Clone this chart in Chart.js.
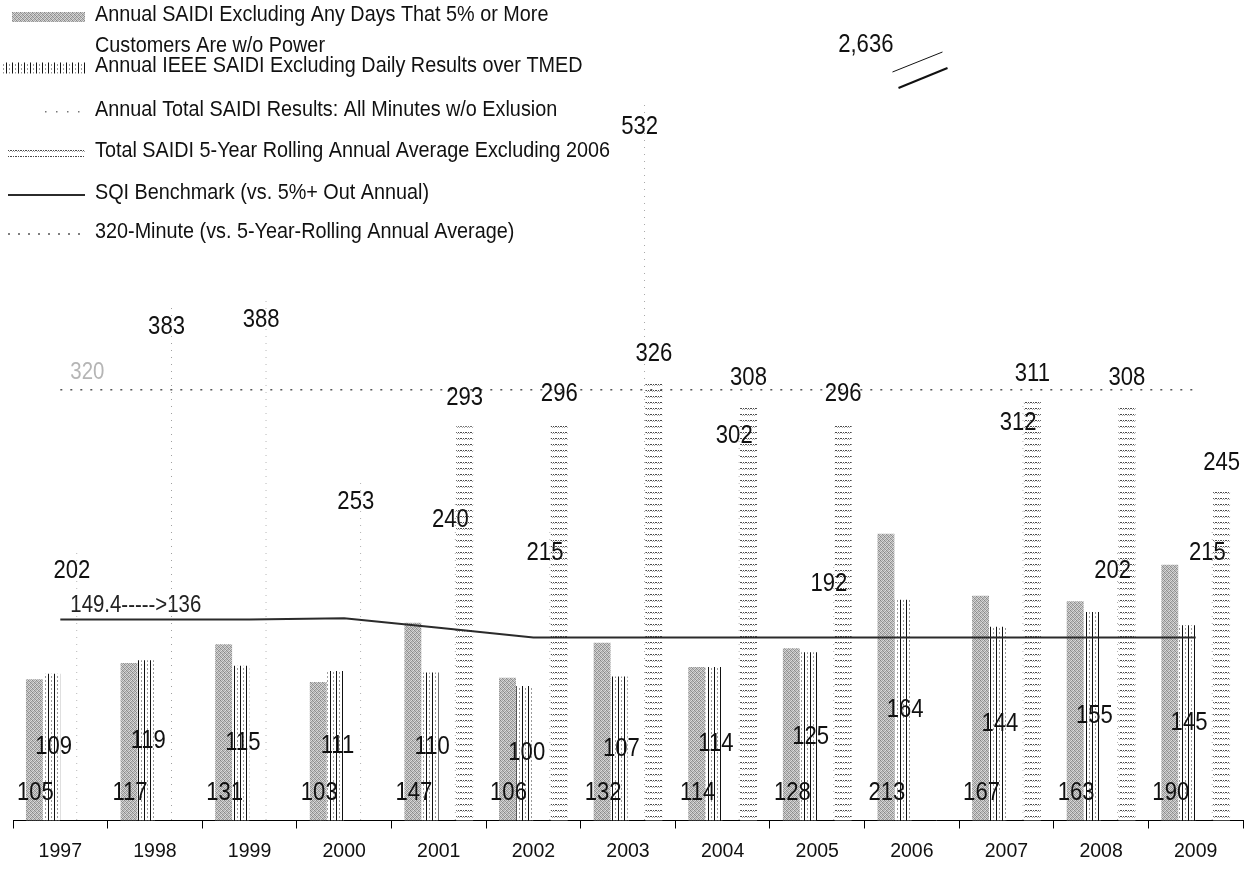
<!DOCTYPE html>
<html>
<head>
<meta charset="utf-8">
<title>SAIDI 1997-2009</title>
<script src="https://cdn.jsdelivr.net/npm/chart.js@4.4.1/dist/chart.umd.min.js"></script>
<style>
  html, body { margin: 0; padding: 0; background: #fff; }
  #wrap { width: 1247px; height: 874px; }
</style>
</head>
<body>
<div id="wrap"><canvas id="saidiChart" width="1247" height="874"></canvas></div>
<script>
const years = ['1997', '1998', '1999', '2000', '2001', '2002', '2003', '2004', '2005', '2006', '2007', '2008', '2009'];
const saidiExcl5pct = [105, 117, 131, 103, 147, 106, 132, 114, 128, 213, 167, 163, 190];
const ieeeSaidi = [109, 119, 115, 111, 110, 100, 107, 114, 125, 164, 144, 155, 145];
const totalSaidi = [202, 383, 388, 253, 240, 215, 532, 302, 192, 2636, 312, 202, 215];
const rollingAvg = [null, null, null, null, 293, 296, 326, 308, 296, null, 311, 308, 245];
const sqiBenchmark = [149.4, 149.4, 149.4, 150.3, 143.2, 136, 136, 136, 136, 136, 136, 136, 136];
const target320 = [320, 320, 320, 320, 320, 320, 320, 320, 320, 320, 320, 320, 320];
const yMax = 600;

const legendText = [
  ['Annual SAIDI Excluding Any Days That 5% or More', 'Customers Are w/o Power'],
  ['Annual IEEE SAIDI Excluding Daily Results over TMED'],
  ['Annual Total SAIDI Results: All Minutes w/o Exlusion'],
  ['Total SAIDI 5-Year Rolling Annual Average Excluding 2006'],
  ['SQI Benchmark (vs. 5%+ Out Annual)'],
  ['320-Minute (vs. 5-Year-Rolling Annual Average)']
];

const FONT = "'Liberation Sans', Arial, sans-serif";
Chart.defaults.font.family = FONT;

// the printed chart uses a narrow face; squeeze our own text horizontally
function squeezedText(ctx, text, x, y, size, align, squeeze) {
  ctx.save();
  ctx.font = `${size}px ${FONT}`;
  ctx.textAlign = align || 'center';
  ctx.textBaseline = 'middle';
  ctx.translate(x, y);
  ctx.scale(squeeze || 0.85, 1);
  ctx.fillText(text, 0, 0);
  ctx.restore();
}

// small canvas tiles used as fills, to imitate the printed hatching
function makePattern(w, h, paint) {
  const c = document.createElement('canvas');
  c.width = w;
  c.height = h;
  const g = c.getContext('2d');
  paint(g);
  return g.createPattern(c, 'repeat');
}

const greyFill = makePattern(4, 4, g => {
  const shades = [
    ['#868686', '#cdcdcd', '#a8a8a8', '#dcdcdc'],
    ['#c2c2c2', '#949494', '#d8d8d8', '#9e9e9e'],
    ['#aeaeae', '#dedede', '#8a8a8a', '#c6c6c6'],
    ['#d6d6d6', '#a2a2a2', '#c4c4c4', '#909090']
  ];
  shades.forEach((row, y) => row.forEach((c, x) => { g.fillStyle = c; g.fillRect(x, y, 1, 1); }));
});

const stripeFill = makePattern(6, 4, g => {
  g.fillStyle = '#fff';
  g.fillRect(0, 0, 6, 4);
  g.fillStyle = '#111';
  g.fillRect(0, 0, 1, 4);
  g.fillStyle = '#999';
  g.fillRect(3, 0, 1, 2);
});

const dashFill = makePattern(5, 6, g => {
  g.fillStyle = '#fff';
  g.fillRect(0, 0, 5, 6);
  g.fillStyle = '#4a4a4a';
  [0, 1, 3].forEach(x => g.fillRect(x, 0, 1, 1));
  g.fillStyle = '#a8a8a8';
  [2, 4].forEach(x => g.fillRect(x, 1, 1, 1));
});

const dotEdge = makePattern(1, 7, g => {
  g.fillStyle = '#a0a0a0';
  g.fillRect(0, 0, 1, 1);
});

// where each legend row sits (text centre) and what its swatch looks like
const legendRows = [15, 66, 110, 151, 193, 232];
const swatches = [
  { kind: 'box', x: 12, w: 73, h: 10 },
  { kind: 'box', x: 3, w: 82, h: 11 },
  { kind: 'dots', x: 45, w: 35 },
  { kind: 'box', x: 8, w: 77, h: 8 },
  { kind: 'line', x: 8, w: 77 },
  { kind: 'line', x: 8, w: 77 }
];

const legendPlugin = {
  id: 'columnLegend',
  afterDraw(chart) {
    const ctx = chart.ctx;
    ctx.save();
    chart.data.datasets.forEach((ds, i) => {
      const y = legendRows[i];
      const sw = swatches[i];
      if (sw.kind === 'box') {
        ctx.fillStyle = ds.backgroundColor;
        ctx.fillRect(sw.x, y + 2 - sw.h / 2, sw.w, sw.h);
      } else if (sw.kind === 'dots') {
        ctx.fillStyle = '#777';
        for (let x = sw.x; x <= sw.x + sw.w; x += 11) ctx.fillRect(x, y + 1, 1.5, 1.5);
      } else {
        ctx.strokeStyle = ds.borderColor;
        ctx.lineWidth = ds.borderWidth;
        ctx.setLineDash(ds.borderDash || []);
        ctx.beginPath();
        ctx.moveTo(sw.x, y + 2);
        ctx.lineTo(sw.x + sw.w, y + 2);
        ctx.stroke();
        ctx.setLineDash([]);
      }
      ctx.fillStyle = '#111';
      legendText[i].forEach((line, k) => squeezedText(ctx, line, 95, y + k * 31, 22, 'left', 0.9));
    });
    ctx.restore();
  }
};

const valueLabelPlugin = {
  id: 'valueLabels',
  afterDatasetsDraw(chart) {
    const ctx = chart.ctx;
    const area = chart.chartArea;
    const fmt = v => v.toLocaleString('en-US');
    const size = 26;
    ctx.save();
    ctx.fillStyle = '#111';

    // excluding 5%+ days: inside base
    chart.getDatasetMeta(0).data.forEach((bar, i) => {
      squeezedText(ctx, fmt(saidiExcl5pct[i]), bar.x + 1, bar.base - 28, size);
    });
    // IEEE: centred on the bar
    chart.getDatasetMeta(1).data.forEach((bar, i) => {
      squeezedText(ctx, fmt(ieeeSaidi[i]), bar.x + 2, (bar.y + bar.base) / 2, size);
    });
    // total: inside end, or a broken-bar marker when off the scale
    chart.getDatasetMeta(2).data.forEach((bar, i) => {
      if (bar.y < area.top) {
        squeezedText(ctx, fmt(totalSaidi[i]), bar.x - 27, area.top + 32, size, 'right');
        ctx.strokeStyle = '#111';
        ctx.lineWidth = 1;
        ctx.beginPath();
        ctx.moveTo(bar.x - 28, area.top + 59);
        ctx.lineTo(bar.x + 22, area.top + 39);
        ctx.stroke();
        ctx.lineWidth = 2;
        ctx.beginPath();
        ctx.moveTo(bar.x - 22, area.top + 75);
        ctx.lineTo(bar.x + 27, area.top + 55);
        ctx.stroke();
      } else {
        squeezedText(ctx, fmt(totalSaidi[i]), bar.x + 3, bar.y + 22, size);
      }
    });
    // rolling average: outside end
    chart.getDatasetMeta(3).data.forEach((bar, i) => {
      if (rollingAvg[i] === null) return;
      squeezedText(ctx, fmt(rollingAvg[i]), bar.x, bar.y - 28, size);
    });

    // line captions
    const bench = chart.getDatasetMeta(4).data[0];
    ctx.fillStyle = '#222';
    squeezedText(ctx, '149.4----->136', bench.x + 10, bench.y - 14, 24, 'left');

    const t320 = chart.getDatasetMeta(5).data[0];
    ctx.fillStyle = '#b5b5b5';
    squeezedText(ctx, '320', t320.x + 10, t320.y - 17, 24, 'left');
    ctx.restore();
  }
};

const ctx = document.getElementById('saidiChart').getContext('2d');
const saidiChart = new Chart(ctx, {
  data: {
    labels: years,
    datasets: [
      {
        type: 'bar',
        label: legendText[0].join(' '),
        data: saidiExcl5pct,
        backgroundColor: greyFill,
        borderWidth: 0,
        order: 2
      },
      {
        type: 'bar',
        label: legendText[1].join(' '),
        data: ieeeSaidi,
        backgroundColor: stripeFill,
        borderWidth: 0,
        order: 2
      },
      {
        type: 'bar',
        label: legendText[2].join(' '),
        data: totalSaidi,
        backgroundColor: 'rgba(255,255,255,0)',
        // bars that run off the scale are shown by the break mark instead
        borderColor: c => (c.raw > yMax ? 'rgba(0,0,0,0)' : dotEdge),
        borderWidth: { top: 0, right: 1, bottom: 0, left: 0 },
        borderSkipped: false,
        order: 2
      },
      {
        type: 'bar',
        label: legendText[3].join(' '),
        data: rollingAvg,
        backgroundColor: dashFill,
        borderWidth: 0,
        order: 2
      },
      {
        type: 'line',
        label: legendText[4].join(' '),
        data: sqiBenchmark,
        borderColor: '#2b2b2b',
        borderWidth: 2,
        pointRadius: 0,
        tension: 0,
        fill: false,
        order: 0
      },
      {
        type: 'line',
        label: legendText[5].join(' '),
        data: target320,
        borderColor: '#555',
        borderWidth: 1.5,
        borderDash: [2, 8],
        pointRadius: 0,
        tension: 0,
        fill: false,
        order: 0
      }
    ]
  },
  options: {
    responsive: false,
    animation: false,
    devicePixelRatio: 1,
    datasets: {
      bar: { categoryPercentage: 0.73, barPercentage: 0.98 }
    },
    layout: {
      padding: { left: 13, right: 4, top: 13, bottom: 0 }
    },
    scales: {
      x: {
        grid: { display: true, drawOnChartArea: false, drawTicks: true, tickLength: 8, color: '#000', offset: true },
        border: { display: true, color: '#000', width: 1 },
        ticks: { color: '#111', font: { family: FONT, size: 19.5, lineHeight: 1 }, padding: 13, maxRotation: 0 }
      },
      y: { display: false, min: 0, max: yMax }
    },
    plugins: {
      legend: { display: false },
      tooltip: { enabled: false }
    }
  },
  plugins: [valueLabelPlugin, legendPlugin]
});
</script>
</body>
</html>
